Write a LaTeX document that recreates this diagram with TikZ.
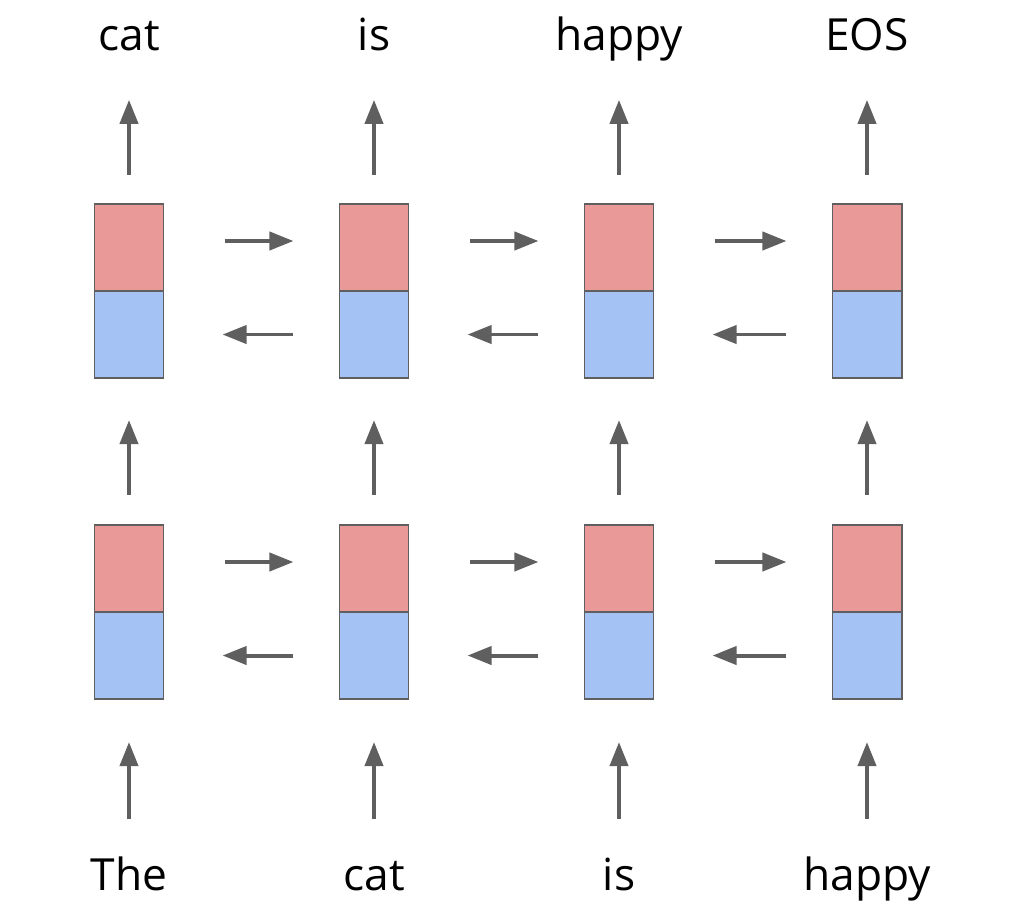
\documentclass[tikz,border=0pt]{standalone}
\usepackage{fontspec}
\setmainfont{Open Sans}
\usepackage{tikz}
\usetikzlibrary{positioning, arrows.meta}
\definecolor{cellred}{HTML}{EA9999}
\definecolor{cellblue}{HTML}{A4C2F4}
\definecolor{linegray}{HTML}{5F5F5F}

\tikzset{
  half/.style={draw=linegray, line width=1.4pt, minimum width=1.725cm,
    minimum height=2.175cm, inner sep=0pt, outer sep=0pt},
  fwd/.style={half, fill=cellred},
  bwd/.style={half, fill=cellblue},
  word/.style={inner sep=0pt, anchor=base, text height=0.75em, text depth=0.25em,
    font=\fontsize{31.5}{38}\selectfont},
  arr/.style={draw=linegray, line width=2.8pt,
    -{Triangle[length=0.6cm, width=0.45cm]}}
}

\begin{document}
\begin{tikzpicture}[x=0.025cm, y=-0.025cm]
  \useasboundingbox (0,0) rectangle (1014,916);

  % two layers of cells
  \foreach \x [count=\i] in {129,374,619,867} {
    \node[fwd] (ur\i) at (\x,247.5) {};
    \node[bwd, below=0pt of ur\i] (ub\i) {};
    \node[fwd] (lr\i) at (\x,568.5) {};
    \node[bwd, below=0pt of lr\i] (lb\i) {};
  }

  % words
  \foreach \x/\w [count=\i] in {129/cat,374/is,619/happy,867/EOS}
    \node[word] (out\i) at (\x,50) {\w};
  \foreach \x/\w [count=\i] in {129/The,374/cat,619/is,867/happy}
    \node[word] (in\i) at (\x,890) {\w};

  % vertical flow
  \foreach \i in {1,...,4} {
    \draw[arr, shorten <=1.5cm, shorten >=1.075cm] (in\i.north) -- (lb\i.south);
    \draw[arr, shorten <=0.75cm, shorten >=1.05cm] (lr\i.north) -- (ub\i.south);
    \draw[arr, shorten <=0.725cm, shorten >=1.15cm] (ur\i.north) -- (out\i.south);
  }

  % forward and backward directions
  \foreach \i/\j in {1/2,2/3,3/4} {
    \draw[arr, shorten <=1.525cm, shorten >=1.15cm]
      ([yshift=0.1625cm]ur\i.east) -- ([yshift=0.1625cm]ur\j.west);
    \draw[arr, shorten <=1.15cm, shorten >=1.475cm] (ub\j.west) -- (ub\i.east);
    \draw[arr, shorten <=1.525cm, shorten >=1.15cm]
      ([yshift=0.1625cm]lr\i.east) -- ([yshift=0.1625cm]lr\j.west);
    \draw[arr, shorten <=1.15cm, shorten >=1.475cm] (lb\j.west) -- (lb\i.east);
  }
\end{tikzpicture}
\end{document}
